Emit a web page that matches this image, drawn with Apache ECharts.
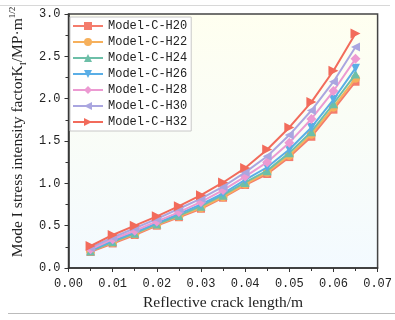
<!DOCTYPE html>
<html><head><meta charset="utf-8">
<script src="https://cdn.jsdelivr.net/npm/echarts@6/dist/echarts.min.js"></script>
<style>html,body{margin:0;padding:0;background:#fff}#c{width:395px;height:320px}</style>
</head><body><div id="c"></div>
<script>
const crackLength = [0.005,0.01,0.015,0.02,0.025,0.03,0.035,0.04,0.045,0.05,0.055,0.06,0.065];
const seriesNames = ['Model-C-H20','Model-C-H22','Model-C-H24','Model-C-H26','Model-C-H28','Model-C-H30','Model-C-H32'];
const H20 = [0.19,0.29,0.39,0.50,0.60,0.70,0.83,0.98,1.11,1.31,1.55,1.87,2.20];
const H22 = [0.20,0.30,0.40,0.51,0.61,0.71,0.84,0.99,1.13,1.33,1.58,1.90,2.24];
const H24 = [0.20,0.31,0.41,0.52,0.62,0.73,0.86,1.01,1.15,1.36,1.61,1.94,2.29];
const H26 = [0.21,0.32,0.42,0.53,0.64,0.75,0.88,1.04,1.19,1.40,1.66,1.99,2.36];
const H28 = [0.22,0.34,0.44,0.55,0.66,0.78,0.92,1.08,1.25,1.48,1.76,2.09,2.47];
const H30 = [0.24,0.36,0.47,0.58,0.70,0.82,0.96,1.13,1.32,1.57,1.86,2.20,2.61];
const H32 = [0.26,0.39,0.50,0.61,0.73,0.86,1.01,1.18,1.40,1.66,1.96,2.33,2.77];
const allValues = [H20,H22,H24,H26,H28,H30,H32];
const colors = ['#f47c6c','#f6b05c','#6dbfa8','#5aaee6','#ec9ad2','#aaa6e0','#f26b5b'];
const symbols = ['rect','circle','triangle','triangle','diamond','triangle','triangle'];
const rotations = [0,0,0,180,0,90,-90];
const sizes = [8,9,9,9,10,9,10];

const chart = echarts.init(document.getElementById('c'));
const series = allValues.map((vals,i)=>({
  name: seriesNames[i], type:'line',
  data: vals.map((v,j)=>[crackLength[j], v]),
  symbol: symbols[i], symbolRotate: rotations[i], symbolSize: sizes[i],
  showAllSymbol:true,
  lineStyle:{width:2,color:colors[i]},
  itemStyle:{color:colors[i]},
  z: 2+i
}));
chart.setOption({
  animation:false,
  grid:{left:65,right:14,top:14,bottom:52,show:true,borderColor:'#444',borderWidth:1.5,
    backgroundColor:{type:'linear',x:0,y:0,x2:0,y2:1,colorStops:[{offset:0,color:'#fffff0'},{offset:1,color:'#f3faff'}]}},
  legend:{
    left:70, top:17, orient:'vertical',
    data: seriesNames,
    itemWidth:30, itemHeight:10, itemGap:4,
    borderColor:'#c8c8c8', borderWidth:1, padding:[3,4,3,2],
    backgroundColor:'#ffffff',
    textStyle:{fontFamily:'Liberation Mono',fontSize:12,color:'#222',padding:[0,0,0,0],lineHeight:12}
  },
  xAxis:{
    type:'value', min:0, max:0.07, interval:0.01,
    name:'Reflective crack length/m', nameLocation:'middle', nameGap:27,
    nameTextStyle:{fontFamily:'Liberation Serif',fontSize:15.5,color:'#222'},
    axisLine:{lineStyle:{color:'#333',width:1.5}},
    axisTick:{inside:false,length:4,lineStyle:{color:'#333'}},
    minorTick:{show:true,splitNumber:2,length:3,lineStyle:{color:'#333'}},
    splitLine:{show:false},
    axisLabel:{fontFamily:'Liberation Mono',fontSize:12,color:'#222',margin:10,
      formatter:v=>v.toFixed(2)}
  },
  yAxis:{
    type:'value', min:0, max:3, interval:0.5,
    name:'{a|Mode I stress intensity factorK}{sub|I}{a|/MP·m}{sup|1/2}',
    nameLocation:'middle', nameGap:40, nameRotate:90,
    nameTextStyle:{fontFamily:'Liberation Serif',fontSize:15.5,color:'#222',padding:[0,0,0,18],
      rich:{
        a:{fontFamily:'Liberation Serif',fontSize:15.5,color:'#222',lineHeight:20,verticalAlign:'middle'},
        sub:{fontFamily:'Liberation Serif',fontSize:9,color:'#222',lineHeight:20,verticalAlign:'bottom',padding:[6,0,0,0]},
        sup:{fontFamily:'Liberation Serif',fontSize:9,color:'#222',lineHeight:20,verticalAlign:'top',padding:[0,0,8,0]}
      }},
    axisLine:{show:true,lineStyle:{color:'#333',width:1.5}},
    axisTick:{show:true,inside:false,length:4,lineStyle:{color:'#333'}},
    minorTick:{show:true,splitNumber:2,length:3,lineStyle:{color:'#333'}},
    splitLine:{show:false},
    axisLabel:{fontFamily:'Liberation Mono',fontSize:12,color:'#222',margin:8,
      formatter:v=>v.toFixed(1)}
  },
  graphic:[
    {type:'line',shape:{x1:0,y1:5.5,x2:390,y2:5.5},style:{stroke:'#d8d8d8',lineWidth:1}},
    {type:'line',shape:{x1:8,y1:313.5,x2:395,y2:313.5},style:{stroke:'#bbbbbb',lineWidth:1}}
  ],
  series: series
});
</script></body></html>
